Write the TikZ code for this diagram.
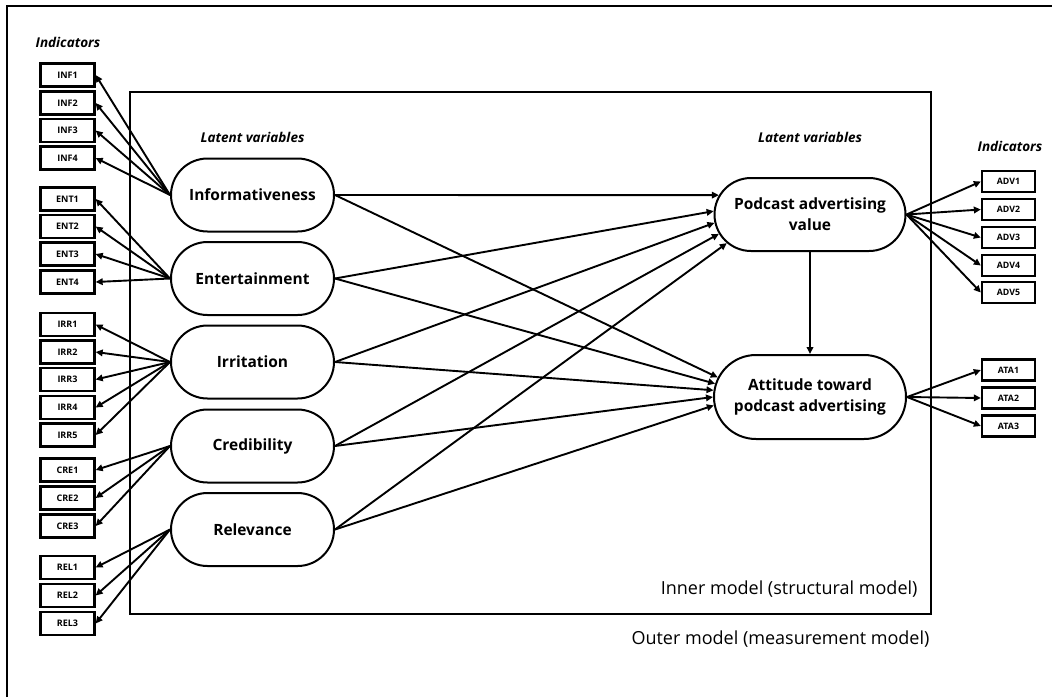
\documentclass[tikz,border=0pt]{standalone}
\usepackage{fontspec}
\setmainfont{Open Sans}
\usetikzlibrary{arrows.meta,shapes.misc}

\tikzset{
    latent/.style={rounded rectangle, draw, line width=2pt, align=center,
        minimum width=163pt, minimum height=73pt, inner sep=0pt,
        font=\bfseries\fontsize{15.5}{21}\selectfont},
    indbox/.style={draw, line width=2.3pt, minimum width=54pt, minimum height=23pt,
        inner sep=0pt, font=\bfseries\fontsize{9}{10}\selectfont},
    indsmall/.style={indbox, minimum width=53pt, minimum height=21pt,
        font=\bfseries\fontsize{8.8}{9}\selectfont},
    heading/.style={font=\bfseries\itshape\fontsize{13.5}{15}\selectfont},
    caption/.style={anchor=east, font=\fontsize{18}{20}\selectfont},
    link/.style={line width=1.9pt, -{Triangle[length=7pt,width=6.5pt]}},
    frame/.style={line width=2pt}
}

\newcommand{\latentnames}{%
        inf/Informativeness/195, ent/Entertainment/278.5, irr/Irritation/362,
        cre/Credibility/446, rel/Relevance/529.5%
    }
\newcommand{\leftindicators}{%
        INF1/75/inf, INF2/103/inf, INF3/130.5/inf, INF4/158/inf,
        ENT1/199/ent, ENT2/226.5/ent, ENT3/254/ent, ENT4/282/ent,
        IRR1/324.5/irr, IRR2/352/irr, IRR3/379.5/irr, IRR4/407.5/irr, IRR5/435/irr,
        CRE1/470/cre, CRE2/498/cre, CRE3/526/cre,
        REL1/567.5/rel, REL2/595.5/rel, REL3/623.5/rel%
    }

\begin{document}
\begin{tikzpicture}[x=1pt, y=-1pt]
        \useasboundingbox (0,0) rectangle (1052,697);
        % Outer and inner model frames
        \draw[frame] (7,697) -- (7,6) -- (1052,6);
        \draw[frame] (130,92) rectangle (931,614);

        % Headings
        \node[heading] (indl) at (68,42) {Indicators};
        \node[heading] (indr) at (1010,146) {Indicators};
        \node[heading] (latl) at (252.5,137) {Latent variables};
        \node[heading] (latr) at (810,137) {Latent variables};
        \node[caption] (inner) at (921,589) {Inner model (structural model)};
        \node[caption] (outer) at (933,639) {Outer model (measurement model)};

        % Latent variables
        \foreach \n/\lbl/\y in \latentnames{
            \node[latent] (\n) at (252.5,\y) {\lbl};
        }
        \node[latent, minimum width=191pt] (pav) at (810,214.5)
            {Podcast advertising\\value};
        \node[latent, minimum width=192pt, minimum height=84pt] (att) at (810,397)
            {Attitude toward\\podcast advertising};

        % Left indicators
        \foreach \n/\y/\src in \leftindicators{
            \node[indbox] (\n) at (67.5,\y) {\n};
            \draw[link] (\src.west) -- (\n.east);
        }

        % Right indicators
        \foreach \n/\y in {ADV1/181.5, ADV2/209.5, ADV3/237.5, ADV4/265.5, ADV5/292.5}{
            \node[indsmall] (\n) at (1008.5,\y) {\n};
            \draw[link] (pav.east) -- (\n.west);
        }
        \foreach \n/\y in {ATA1/370, ATA2/398, ATA3/426}{
            \node[indsmall] (\n) at (1008.5,\y) {\n};
            \draw[link] (att.east) -- (\n.west);
        }

        % Structural paths
        \foreach \src/\a/\b in {inf/168/168, ent/178/172, irr/185/176, cre/192/180, rel/199/185}{
            \draw[link] (\src.east) -- (pav.\a);
            \draw[link] (\src.east) -- (att.\b);
        }
        \draw[link] (pav.south) -- (att.north);
    \end{tikzpicture}
\end{document}
